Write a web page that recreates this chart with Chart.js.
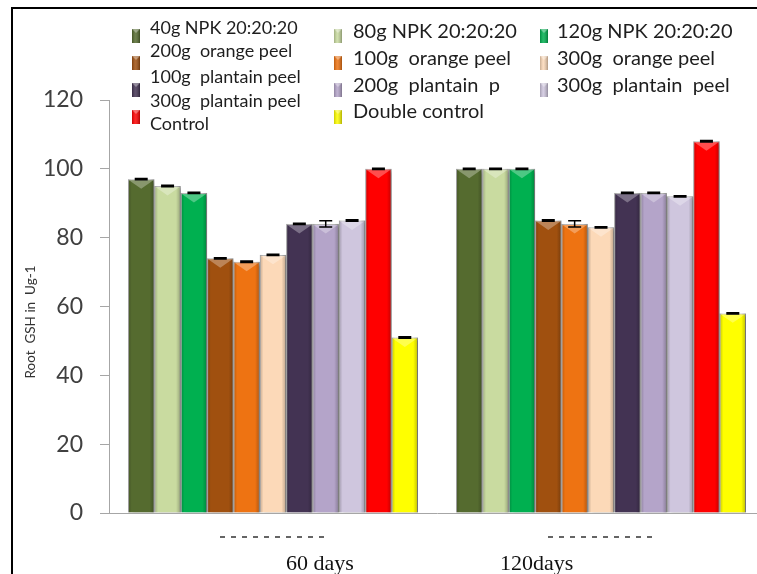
<!DOCTYPE html>
<html>
<head>
<meta charset="utf-8">
<title>Root GSH</title>
<script src="https://cdn.jsdelivr.net/npm/chart.js@4.4.1/dist/chart.umd.min.js"></script>
<style>
  html, body { margin: 0; padding: 0; background: #fff; overflow: hidden; }
  #wrap { position: relative; width: 772px; height: 574px; }
  #frame { position: absolute; left: 11px; top: 7px; width: 780px; height: 600px;
           border-top: 2px solid #000; border-left: 2px solid #000; pointer-events: none; }
</style>
</head>
<body>
<div id="wrap">
  <canvas id="c" width="772" height="574"></canvas>
  <div id="frame"></div>
</div>
<script>
// Harvest stages (x categories)
const categories = ['60 days', '120days'];

// Treatments, in legend order
const seriesNames = [
  '40g NPK 20:20:20', '80g NPK 20:20:20', '120g NPK 20:20:20',
  '200g  orange peel', '100g  orange peel', '300g  orange peel',
  '100g  plantain peel', '200g  plantain  p', '300g  plantain  peel',
  'Control', 'Double control'
];

// Root GSH (Ug-1) per treatment
const day60  = [97, 95, 93, 74, 73, 75, 84, 84, 85, 100, 51];
const day120 = [100, 100, 100, 85, 84, 83, 93, 93, 92, 108, 58];

// Standard errors
const err60  = [0.2, 0.2, 0.2, 0.2, 0.2, 0.2, 0.2, 0.9, 0.2, 0.2, 0.2];
const err120 = [0.2, 0.2, 0.2, 0.2, 0.9, 0.2, 0.2, 0.2, 0.2, 0.2, 0.2];

const yTicks = [0, 20, 40, 60, 80, 100, 120];

const seriesColors = [
  '#556B2F', '#C9DBA0', '#00B050',
  '#A0500F', '#EE7312', '#FCD9B8',
  '#433353', '#B4A4C9', '#CFC6DE',
  '#FF0000', '#FFFF00'
];

// Text of the wrapped legend line in the first column
const legendNote = '300g  plantain peel';

const axisTitle = 'Root  GSH in  Ug-1';
const stageLabels = ['60 days', '120days'];

const datasets = seriesNames.map((name, i) => ({
  label: name,
  data: [day60[i], day120[i]],
  errors: [err60[i], err120[i]],
  backgroundColor: seriesColors[i],
  borderColor: 'rgba(0,0,0,0.22)',
  borderWidth: 1,
  barPercentage: 1.0,
  categoryPercentage: 0.884
}));

// Shaded, bevelled bars with error bars
const bevelBars = {
  id: 'bevelBars',
  beforeDatasetDraw(chart) {
    const c = chart.ctx;
    c.save();
    c.shadowColor = 'rgba(0,0,0,0.35)';
    c.shadowBlur = 4;
    c.shadowOffsetX = 2;
    c.shadowOffsetY = 1;
  },
  afterDatasetDraw(chart, args) {
    const c = chart.ctx;
    c.restore();
    const ds = chart.data.datasets[args.index];
    const ys = chart.scales.y;
    args.meta.data.forEach((bar, j) => {
      const p = bar.getProps(['x', 'y', 'base', 'width'], true);
      const l = p.x - p.width / 2, r = p.x + p.width / 2;
      c.save();
      const g = c.createLinearGradient(l, 0, r, 0);
      g.addColorStop(0, 'rgba(0,0,0,0.22)');
      g.addColorStop(0.14, 'rgba(0,0,0,0)');
      g.addColorStop(0.82, 'rgba(0,0,0,0)');
      g.addColorStop(1, 'rgba(0,0,0,0.25)');
      c.fillStyle = g;
      c.fillRect(l, p.y, p.width, p.base - p.y);
      // top facet
      c.beginPath();
      c.moveTo(l + 1, p.y + 1);
      c.lineTo(r - 1, p.y + 1);
      c.lineTo(p.x, p.y + p.width * 0.36);
      c.closePath();
      c.fillStyle = 'rgba(255,255,255,0.3)';
      c.fill();
      // error bar
      const v = ds.data[j], e = ds.errors[j];
      const yt = ys.getPixelForValue(v + e), yb = ys.getPixelForValue(v - e);
      const hw = 6.5;
      c.strokeStyle = '#000';
      c.lineWidth = 1.5;
      c.beginPath();
      c.moveTo(p.x - hw, yt); c.lineTo(p.x + hw, yt);
      c.moveTo(p.x - hw, yb); c.lineTo(p.x + hw, yb);
      c.moveTo(p.x, yt); c.lineTo(p.x, yb);
      c.stroke();
      c.restore();
    });
  }
};

// Legend, axis title and stage captions
const decorations = {
  id: 'decorations',
  afterDraw(chart) {
    const c = chart.ctx;
    c.save();

    // y-axis title
    c.translate(31, 322);
    c.rotate(-Math.PI / 2);
    c.font = '13.5px Lato';
    c.fillStyle = '#333';
    c.textAlign = 'center';
    c.textBaseline = 'middle';
    c.fillText(axisTitle, 0, 0);
    c.setTransform(1, 0, 0, 1, 0, 0);

    // dashed remnant under each category
    const xs = chart.scales.x;
    c.strokeStyle = '#333';
    c.lineWidth = 1.6;
    c.setLineDash([5, 6]);
    categories.forEach((_, i) => {
      const cx = xs.getPixelForValue(i);
      c.beginPath();
      c.moveTo(cx - 53, 537);
      c.lineTo(cx + 53, 537);
      c.stroke();
    });
    c.setLineDash([]);

    // stage captions
    c.font = '22px "Liberation Serif"';
    c.fillStyle = '#111';
    c.textAlign = 'left';
    c.textBaseline = 'alphabetic';
    c.fillText(stageLabels[0], 286, 570);
    c.fillText(stageLabels[1], 500, 570);

    // legend
    const boxX = [132, 334, 540];
    const textX = [150, 353, 557];
    const boxTop = [29, 56, 83, 110];
    const col0Base = [34, 57, 83, 130];
    const colBase = [38, 65, 92, 118];
    chart.data.datasets.forEach((ds, i) => {
      const col = i % 3, row = Math.floor(i / 3);
      const bx = boxX[col], by = boxTop[row];
      c.fillStyle = ds.backgroundColor;
      c.fillRect(bx, by, 8, 14);
      const g = c.createLinearGradient(bx, 0, bx + 8, 0);
      g.addColorStop(0, 'rgba(0,0,0,0.2)');
      g.addColorStop(0.4, 'rgba(255,255,255,0.15)');
      g.addColorStop(1, 'rgba(0,0,0,0.3)');
      c.fillStyle = g;
      c.fillRect(bx, by, 8, 14);
      c.beginPath();
      c.moveTo(bx, by); c.lineTo(bx + 8, by); c.lineTo(bx + 4, by + 4); c.closePath();
      c.fillStyle = 'rgba(255,255,255,0.35)';
      c.fill();
      c.fillStyle = '#1e1e1e';
      if (col === 0) {
        c.font = '18px Lato';
        c.fillText(ds.label, textX[col], col0Base[row]);
      } else {
        c.font = '20px Lato';
        c.fillText(ds.label, textX[col], colBase[row]);
      }
    });
    c.font = '18px Lato';
    c.fillStyle = '#1e1e1e';
    c.fillText(legendNote, textX[0], 107);

    c.restore();
  }
};

new Chart(document.getElementById('c'), {
  type: 'bar',
  data: { labels: categories, datasets },
  options: {
    responsive: false,
    animation: false,
    layout: { padding: { top: 100, right: 7, left: 0, bottom: 0 } },
    plugins: { legend: { display: false }, tooltip: { enabled: false } },
    scales: {
      x: {
        ticks: { display: false },
        grid: { display: false },
        border: { color: '#a6a6a6', width: 1 },
        afterFit: s => { s.height = 61; }
      },
      y: {
        min: 0, max: 120,
        afterBuildTicks: s => { s.ticks = yTicks.map(v => ({ value: v })); },
        ticks: { color: '#404040', font: { family: 'Lato', size: 23 }, padding: 17 },
        grid: { display: true, drawOnChartArea: false, drawTicks: true, tickLength: 9, color: '#a6a6a6' },
        border: { color: '#a6a6a6', width: 1 },
        afterFit: s => { s.width = 109; }
      }
    }
  },
  plugins: [bevelBars, decorations]
});
</script>
</body>
</html>
